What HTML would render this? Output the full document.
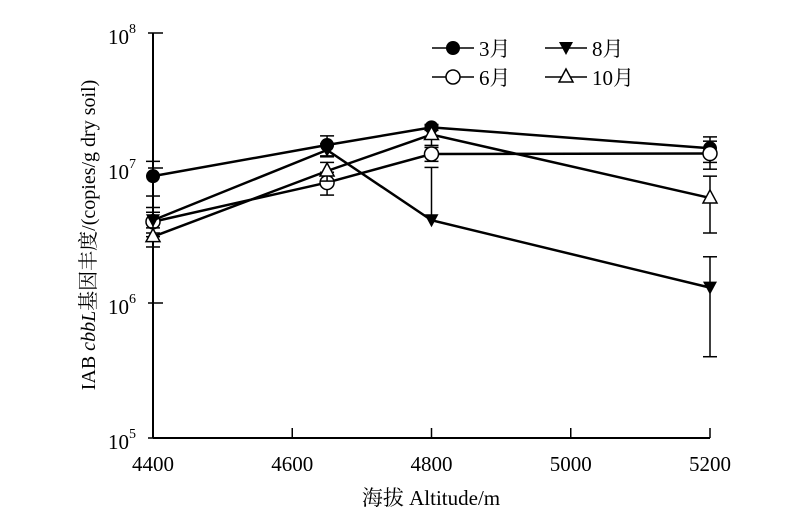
<!DOCTYPE html>
<html><head><meta charset="utf-8"><style>
body{margin:0;background:#fff}
svg{display:block;font-family:"Liberation Serif","Noto Serif CJK SC",serif}
</style></head><body>
<svg id="chart" width="800" height="527" viewBox="0 0 800 527">
<g id="axes"></g><g id="series"></g><g id="legend"></g>
</svg>
<script>
const altitudes=[4400,4650,4800,5200];
const xTicks=[4400,4600,4800,5000,5200];
const yTickExps=[5,6,7,8];
const seriesNames=["3月","6月","8月","10月"];
const march=[8.7e6,1.48e7,2.0e7,1.4e7];
const june=[4.0e6,7.8e6,1.27e7,1.28e7];
const august=[4.1e6,1.36e7,4.1e6,1.3e6];
const october=[3.1e6,9.5e6,1.77e7,6.0e6];
const marchErr=[2.5e6,2.5e6,1.0e6,3.0e6];
const juneErr=[0.7e6,1.5e6,1.5e6,3.0e6];
const augustErr=[1.0e6,1.5e6,6.0e6,0.9e6];
const octoberErr=[0.5e6,1.5e6,3.0e6,2.7e6];

const NS="http://www.w3.org/2000/svg";
const X0=153,X1=710,Y0=438,Y1=33;
const xs=v=>X0+(v-4400)/(5200-4400)*(X1-X0);
const ys=v=>Y0-(Math.log10(v)-5)/3*(Y0-Y1);
function mk(tag,attrs,parent,text){const e=document.createElementNS(NS,tag);for(const k in attrs)e.setAttribute(k,attrs[k]);if(text!==undefined)e.textContent=text;parent.appendChild(e);return e;}
const axes=document.getElementById('axes');
let e=mk('line',{x1:X0,y1:Y0,x2:X1,y2:Y0,stroke:'#000','stroke-width':2},axes);

e=mk('line',{x1:X0,y1:Y0,x2:X0,y2:Y1,stroke:'#000','stroke-width':2},axes);

xTicks.forEach(t=>{
 const x=xs(t);
 e=mk('line',{x1:x,y1:Y0,x2:x,y2:Y0-10,stroke:'#000','stroke-width':1.5},axes);
 
 e=mk('text',{x:x,y:Y0+33,'text-anchor':'middle','font-size':21},axes,String(t));
 
});
yTickExps.forEach(p=>{
 const y=ys(Math.pow(10,p));
 e=mk('line',{x1:X0-5,y1:y,x2:X0+10,y2:y,stroke:'#000','stroke-width':1.5},axes);
 
 e=mk('text',{x:X0-17,y:y+11,'text-anchor':'end','font-size':21},axes);
 
 mk('tspan',{},e,'10');mk('tspan',{dy:-11,'font-size':14},e,String(p));
});
e=mk('text',{x:431,y:505,'text-anchor':'middle','font-size':21},axes,'海拔 Altitude/m');

e=mk('text',{transform:'translate(95,235) rotate(-90)','text-anchor':'middle','font-size':20},axes);

mk('tspan',{},e,'IAB ');mk('tspan',{'font-style':'italic'},e,'cbbL');mk('tspan',{},e,'基因丰度/(copies/g dry soil)');

const data=[march,june,august,october],errs=[marchErr,juneErr,augustErr,octoberErr];
const markers=['circle-fill','circle-open','tri-down','tri-up'];
function marker(g,type,x,y){
 let m;
 if(type==='circle-fill')m=mk('circle',{cx:x,cy:y,r:7,fill:'#000'},g);
 else if(type==='circle-open')m=mk('circle',{cx:x,cy:y,r:7,fill:'#fff',stroke:'#000','stroke-width':1.5},g);
 else if(type==='tri-down')m=mk('polygon',{points:`${x-7},${y-6} ${x+7},${y-6} ${x},${y+7}`,fill:'#000'},g);
 else m=mk('polygon',{points:`${x},${y-8} ${x+7},${y+5} ${x-7},${y+5}`,fill:'#fff',stroke:'#000','stroke-width':1.5},g);
 return m;
}
const sg=document.getElementById('series');
data.forEach((vals,si)=>{
 const g=mk('g',{},sg);
 
 
 vals.forEach((v,i)=>{
  const x=xs(altitudes[i]);const hi=v+errs[si][i];const lo=v-errs[si][i];
  const yh=ys(hi),yl=lo>1e5?ys(lo):ys(v);
  e=mk('line',{x1:x,y1:yh,x2:x,y2:yl,stroke:'#000','stroke-width':1.5},g);
  
  mk('line',{x1:x-7,y1:yh,x2:x+7,y2:yh,stroke:'#000','stroke-width':1.5},g);
  if(lo>1e5)mk('line',{x1:x-7,y1:yl,x2:x+7,y2:yl,stroke:'#000','stroke-width':1.5},g);
 });
 const pts=vals.map((v,i)=>xs(altitudes[i])+','+ys(v)).join(' ');
 e=mk('polyline',{points:pts,fill:'none',stroke:'#000','stroke-width':2.5},g);
 
 vals.forEach((v,i)=>{
  e=marker(g,markers[si],xs(altitudes[i]),ys(v));
  
 });
});
const lg=document.getElementById('legend');
const lpos=[[432,48],[432,77],[545,48],[545,77]];
seriesNames.forEach((n,si)=>{
 const [lx,ly]=lpos[si];
 const g=mk('g',{},lg);
 
 
 mk('line',{x1:lx,y1:ly,x2:lx+42,y2:ly,stroke:'#000','stroke-width':1.5},g);
 marker(g,markers[si],lx+21,ly);
 mk('text',{x:lx+47,y:ly+8,'font-size':21},g,n);
});
</script>
</body></html>
